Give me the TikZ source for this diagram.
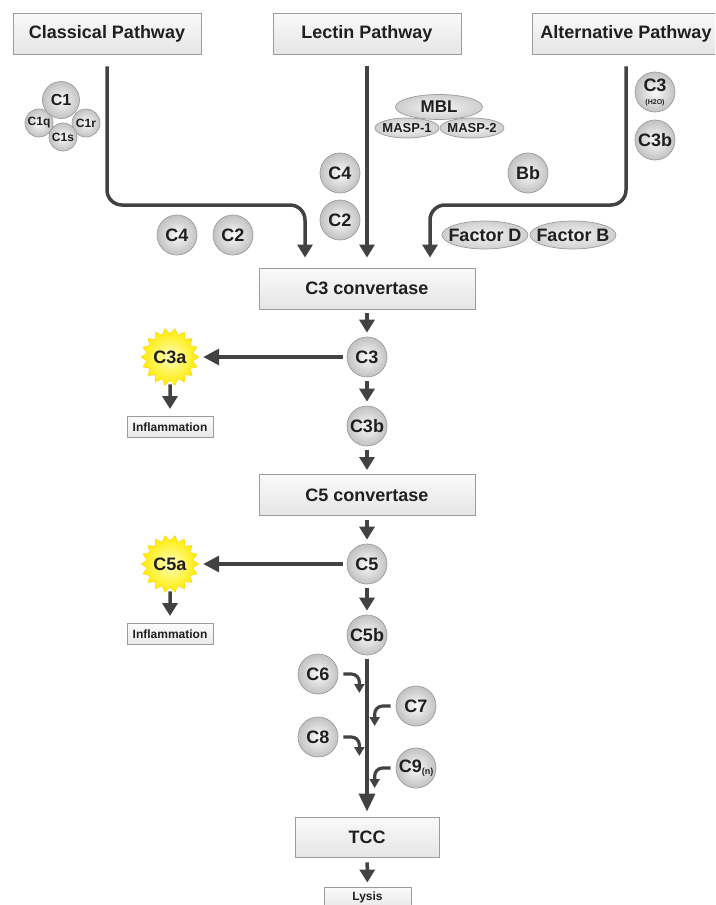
\documentclass[tikz,border=0pt]{standalone}
\usepackage{fontspec}
\setmainfont{Liberation Sans}
\usetikzlibrary{arrows.meta,shapes.geometric}
\definecolor{arrowgray}{HTML}{424242}
\definecolor{edgegray}{HTML}{9C9C9C}
\begin{document}
\begin{tikzpicture}[x=1pt,y=-1pt,
  every node/.style={font=\bfseries\fontsize{18}{20}\selectfont,text=black!88},
  pathbox/.style={draw=edgegray,line width=0.9pt,top color=gray!4,bottom color=gray!20,minimum height=41pt,inner sep=0pt},
  smallbox/.style={draw=edgegray,line width=0.9pt,top color=gray!3,bottom color=gray!18,minimum width=86pt,minimum height=21pt,inner sep=0pt,font=\bfseries\fontsize{12}{13}\selectfont},
  protein/.style={circle,draw=edgegray,line width=0.7pt,inner color=gray!4,outer color=gray!48,minimum size=40pt,inner sep=0pt},
  smallprotein/.style={protein,minimum size=28pt,font=\bfseries\fontsize{12}{13}\selectfont},
  oval/.style={ellipse,draw=edgegray,line width=0.7pt,inner color=gray!8,outer color=gray!38,inner xsep=-14pt,inner ysep=-3pt},
  burst/.style={star,star points=18,star point ratio=0.8,inner sep=0pt,minimum size=46pt,draw=yellow!70!orange,line width=0.5pt,inner color=yellow!25!white,outer color=yellow!85!orange},
  flowarrow/.style={draw=arrowgray,line width=3.5pt,-{Triangle[width=15pt,length=13pt]},shorten <=4pt,shorten >=4pt},
  hookarrow/.style={draw=arrowgray,line width=3.2pt,rounded corners=8pt,-{Triangle[width=10pt,length=9pt]}}]
  \useasboundingbox (0,0) rectangle (715,905);
  \clip (0,0) rectangle (715,905);

  \node[pathbox,minimum width=188pt] (classical) at (107,33.5) {Classical Pathway};
  \node[pathbox,minimum width=188pt] (lectin) at (367,33.5) {Lectin Pathway};
  \node[pathbox,minimum width=188pt] (alternative) at (626,33.5) {Alternative Pathway};

  \node[smallprotein] (c1q) at (39,123) {C1q};
  \node[smallprotein] (c1r) at (86,123) {C1r};
  \node[protein,minimum size=37pt,font=\bfseries\fontsize{16}{18}\selectfont] (c1) at (61,100) {C1};
  \node[smallprotein] (c1s) at (63,137) {C1s};
  \node[protein] (clc4) at (177,235) {C4};
  \node[protein] (clc2) at (233,235) {C2};

  \node[protein] (lec4) at (340,173) {C4};
  \node[protein] (lec2) at (340,220) {C2};
  \node[oval,minimum width=87pt,minimum height=25pt,font=\bfseries\fontsize{17}{18}\selectfont] (mbl) at (439,107) {MBL};
  \node[oval,minimum width=64pt,minimum height=20pt,font=\bfseries\fontsize{13}{14}\selectfont] (masp1) at (407,128) {MASP-1};
  \node[oval,minimum width=64pt,minimum height=20pt,font=\bfseries\fontsize{13}{14}\selectfont] (masp2) at (472,128) {MASP-2};

  \node[protein,align=center] (c3water) at (655,92) {C3\\[-7pt]{\fontsize{7}{7}\selectfont(H2O)}};
  \node[protein] (altc3b) at (655,140) {C3b};
  \node[protein] (bb) at (528,173) {Bb};
  \node[oval,minimum width=86pt,minimum height=28pt] (factord) at (485,235) {Factor D};
  \node[oval,minimum width=86pt,minimum height=28pt] (factorb) at (573,235) {Factor B};

  \node[pathbox,minimum width=216pt] (c3conv) at (367,288.5) {C3 convertase};
  \node[protein] (c3) at (367,357) {C3};
  \node[burst] (c3a) at (170,357) {C3a};
  \node[smallbox] (inflam1) at (170,427) {Inflammation};
  \node[protein] (c3b) at (367,426) {C3b};

  \node[pathbox,minimum width=216pt] (c5conv) at (367,495) {C5 convertase};
  \node[protein] (c5) at (367,564) {C5};
  \node[burst] (c5a) at (170,564) {C5a};
  \node[smallbox] (inflam2) at (170,634) {Inflammation};
  \node[protein] (c5b) at (367,635) {C5b};

  \node[protein] (c6) at (318,674) {C6};
  \node[protein] (c7) at (416,706) {C7};
  \node[protein] (c8) at (318,737) {C8};
  \node[protein] (c9) at (416,768) {C9{\fontsize{9}{9}\selectfont\raisebox{-2pt}{(n)}}};
  \node[pathbox,minimum width=144pt,minimum height=40pt] (tcc) at (367,837) {TCC};
  \node[smallbox,minimum width=87pt] (lysis) at (367.5,897.5) {Lysis};

  \coordinate (clbend) at (305,205);
  \coordinate (altbend) at (430,205);
  \draw[flowarrow,shorten <=0pt,shorten >=0pt,rounded corners=15pt] ([yshift=-12pt]classical.south) |- (clbend) -- ([xshift=-62pt,yshift=10pt]c3conv.north);
  \draw[flowarrow,shorten <=0pt,shorten >=0pt] ([yshift=-12pt]lectin.south) -- ([yshift=10pt]c3conv.north);
  \draw[flowarrow,shorten <=0pt,shorten >=0pt,rounded corners=15pt] ([yshift=-12pt]alternative.south) |- (altbend) -- ([xshift=63pt,yshift=10pt]c3conv.north);

  \draw[flowarrow] (c3conv) -- (c3);
  \draw[flowarrow,-{Triangle[width=16pt,length=16pt]}] (c3) -- (c3a);
  \draw[flowarrow,shorten >=7pt] (c3a) -- (inflam1);
  \draw[flowarrow] (c3) -- (c3b);
  \draw[flowarrow] (c3b) -- (c5conv);
  \draw[flowarrow] (c5conv) -- (c5);
  \draw[flowarrow,-{Triangle[width=16pt,length=16pt]}] (c5) -- (c5a);
  \draw[flowarrow,shorten >=7pt] (c5a) -- (inflam2);
  \draw[flowarrow] (c5) -- (c5b);
  \draw[flowarrow,-{Triangle[width=16pt,length=18pt]},shorten >=5pt] (c5b) -- (tcc);
  \draw[flowarrow,shorten <=5pt] (tcc) -- (lysis);

  \draw[hookarrow] ([xshift=5pt]c6.east) -| ++(16,19);
  \draw[hookarrow] ([xshift=-5pt]c7.west) -| ++(-16,20);
  \draw[hookarrow] ([xshift=5pt]c8.east) -| ++(16,19);
  \draw[hookarrow] ([xshift=-5pt]c9.west) -| ++(-16,20);
\end{tikzpicture}
\end{document}
